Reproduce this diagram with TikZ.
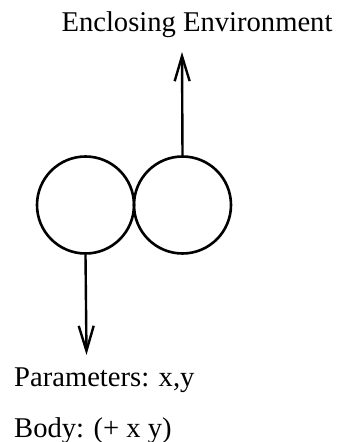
\documentclass[tikz,border=0pt]{standalone}
\usepackage{fontspec}
\setmainfont{Liberation Serif}
\usetikzlibrary{arrows.meta}
\begin{document}
\begin{tikzpicture}[x=1pt,y=1pt,
  ring/.style={circle,draw,line width=2.6pt,minimum size=97pt,inner sep=0pt},
  link/.style={line width=2.4pt,-{Straight Barb[length=25pt,width=15pt,line width=2.4pt]}},
  lbl/.style={font=\fontsize{28.6}{34}\selectfont,inner sep=0pt}]
\useasboundingbox (0,0) rectangle (339,442);
\node[ring] (left) at (85.5,237) {};
\node[ring] (right) at (182.5,237) {};
\node[lbl,anchor=base] (env) at (197,410) {Enclosing Environment};
\node[lbl,anchor=base west] (params) at (14,55) {Parameters: x,y};
\node[lbl,anchor=base west] (body) at (14,5) {Body: (+ x y)};
\coordinate (uptip) at (182,390);
\coordinate (downtip) at (86.5,87);
\draw[link] (right.north) -- (uptip);
\draw[link] (left.south) -- (downtip);
\end{tikzpicture}
\end{document}
